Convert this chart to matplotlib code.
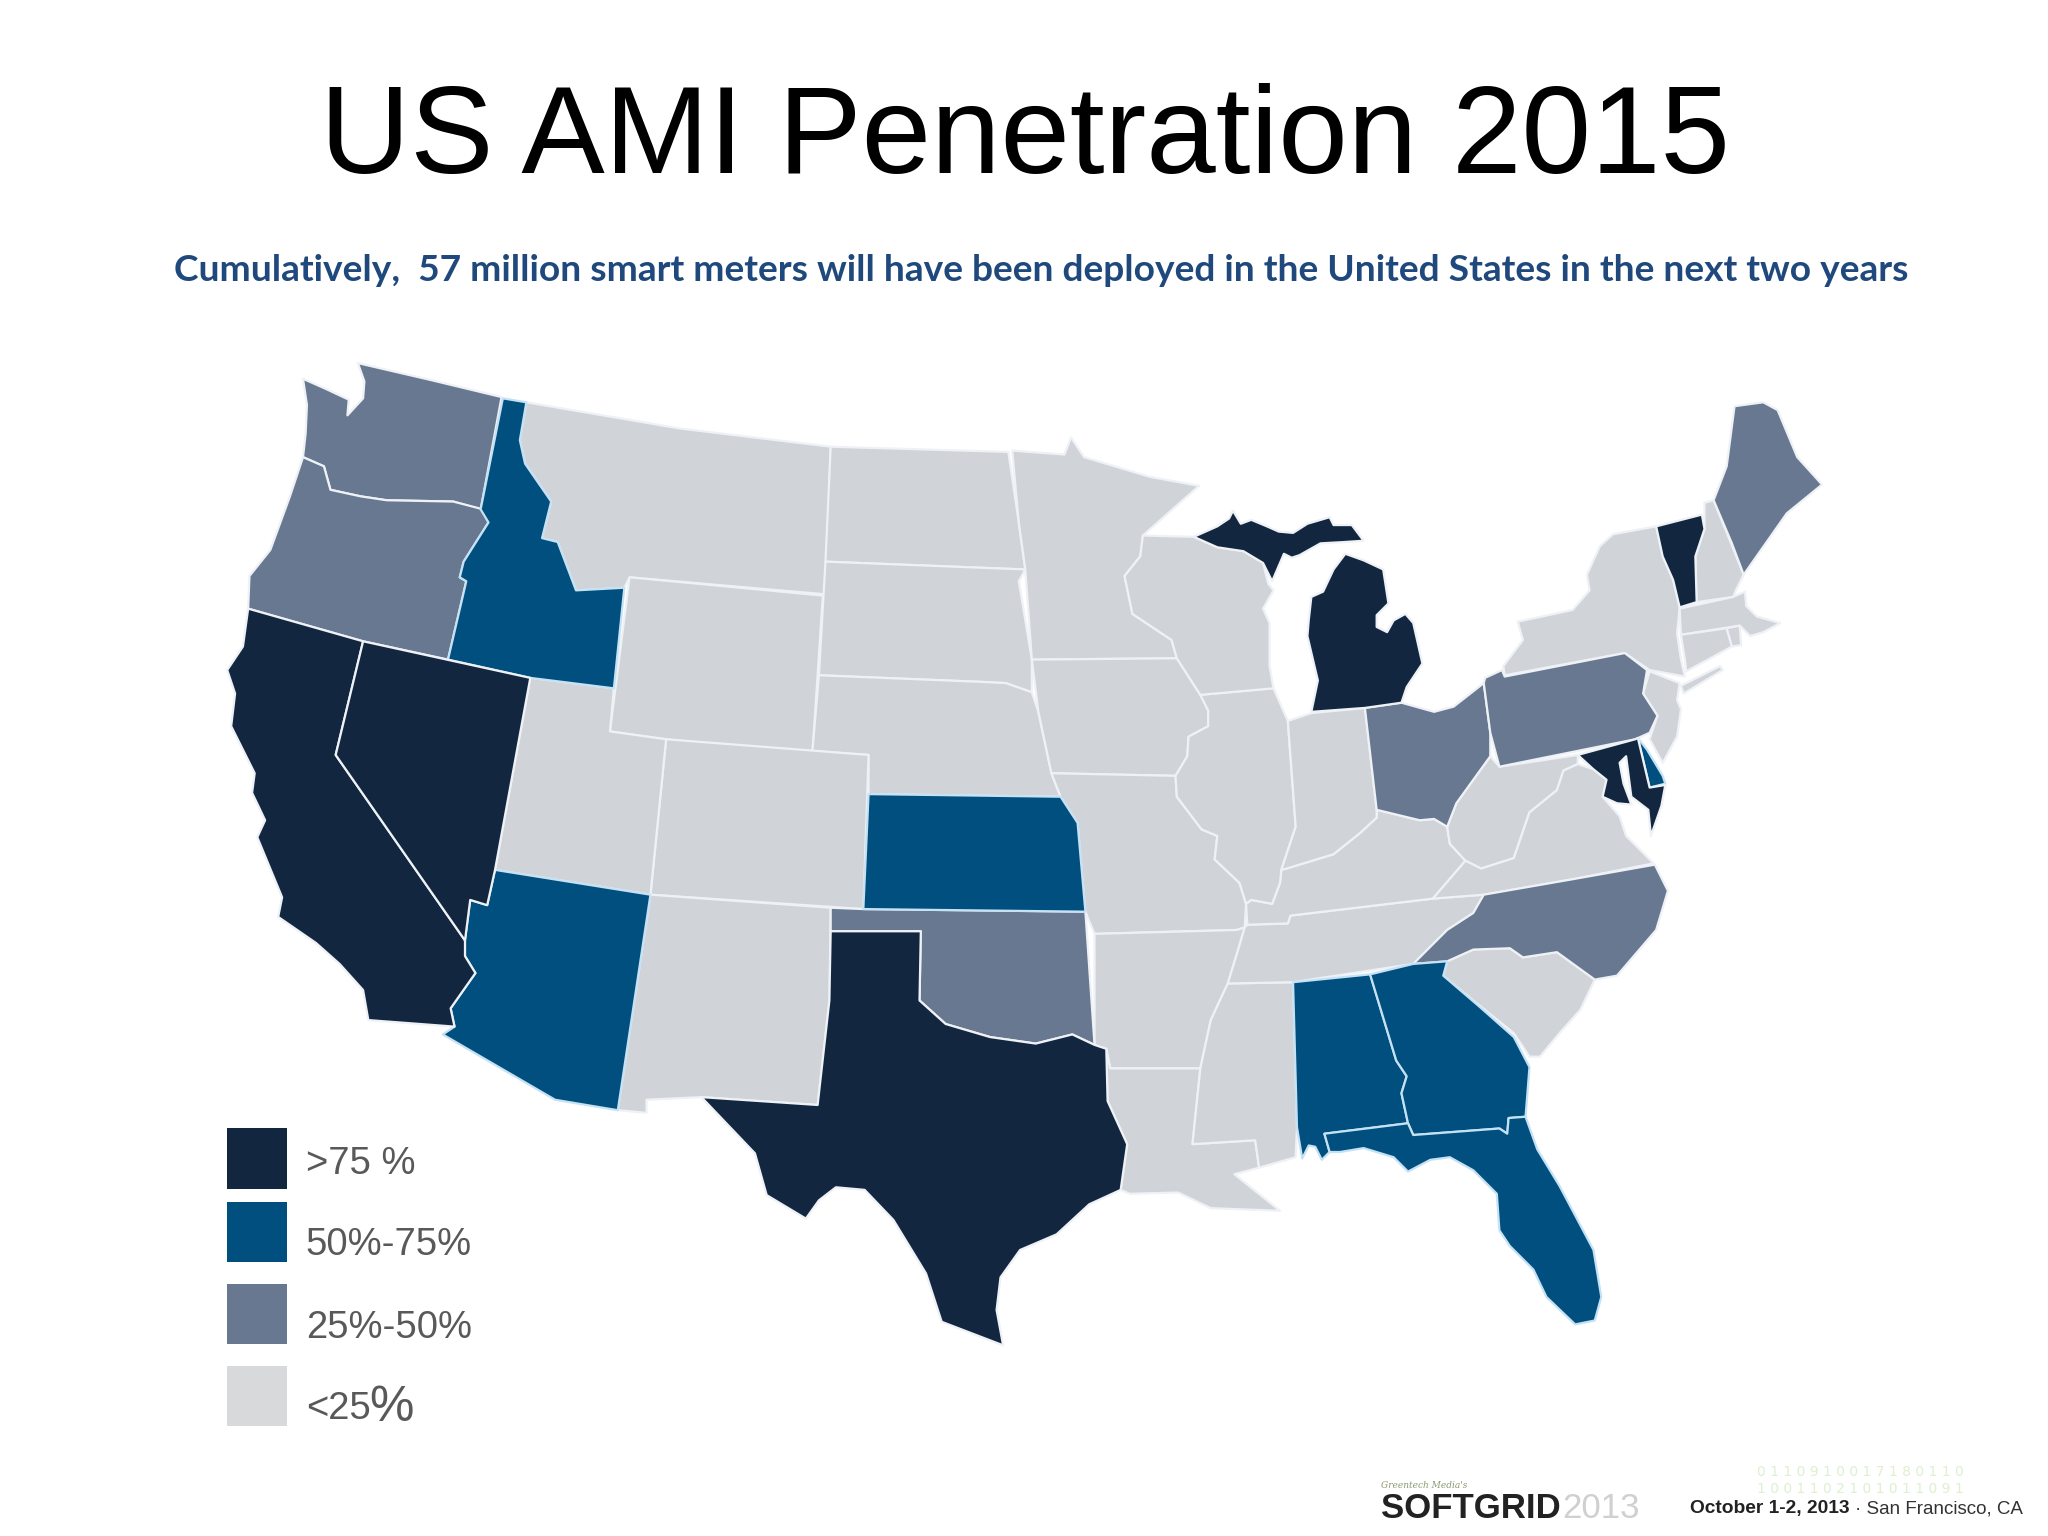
import matplotlib
matplotlib.use("Agg")
import matplotlib.pyplot as plt
from matplotlib.patches import Polygon, Rectangle

# State outlines (reference pixels at 1568 wide)
WA = [(232,290),(250,298),(267,306),(266,318),(278,305),(279,292),(274,278),(330,291),(384,304),(368,390),(347,384),(296,383),(276,380),(253,375),(248,357),(232,350),(234,332),(235,310)]
OR = [(232,350),(248,357),(253,375),(276,380),(296,383),(347,384),(370,390),(374,400),(355,430),(352,442),(357,445),(343,505),(278,491),(190,466),(191,441),(207,421),(222,380)]
ID = [(385,305),(403,308),(398,337),(402,355),(422,384),(415,412),(427,415),(441,452),(478,450),(470,527),(406,519),(343,505),(357,445),(352,442),(355,430),(374,400),(368,390)]
MT = [(403,308),(520,328),(636,342),(632,455),(482,442),(478,450),(441,452),(427,415),(415,412),(422,384),(402,355),(398,337)]
WY = [(482,442),(630,456),(622,577),(510,566),(467,560)]
ND = [(636,342),(772,346),(780,400),(785,436),(632,430)]
SD = [(632,430),(785,436),(780,445),(790,505),(790,530),(770,523),(750,522),(627,517)]
NE = [(627,517),(750,522),(770,523),(790,530),(795,545),(805,592),(812,610),(665,608),(665,578),(622,575)]
KS = [(665,608),(812,610),(825,630),(831,698),(661,696)]
CO = [(510,566),(665,578),(661,696),(498,685)]
UT = [(406,519),(470,527),(467,560),(510,566),(498,685),(379,666)]
NV = [(278,491),(406,519),(379,666),(373,693),(360,689),(356,720),(257,578)]
CA = [(190,466),(278,491),(257,578),(356,720),(356,732),(364,745),(345,772),(348,786),(282,781),(278,758),(260,738),(242,722),(213,702),(216,687),(197,641),(203,628),(193,607),(195,592),(177,556),(180,531),(174,513),(186,495)]
AZ = [(379,666),(498,685),(473,850),(425,842),(339,792),(348,786),(345,772),(364,745),(356,732),(356,720),(360,689),(373,693)]
NM = [(498,685),(636,695),(635,766),(626,846),(537,840),(495,842),(495,852),(473,850)]
TX = [(636,713),(705,713),(704,766),(724,784),(758,794),(793,799),(821,792),(838,800),(847,803),(848,843),(863,876),(858,911),(834,922),(809,945),(781,957),(766,978),(763,1003),(768,1030),(721,1012),(709,975),(684,934),(662,911),(640,909),(627,919),(617,933),(587,915),(578,883),(537,840),(626,846),(635,766)]
OK_ = [(636,695),(661,696),(831,698),(838,800),(821,792),(793,799),(758,794),(724,784),(704,766),(705,713),(636,713)]
MN = [(775,345),(815,348),(820,335),(830,350),(880,365),(918,372),(875,410),(873,426),(861,441),(867,470),(897,490),(901,504),(790,505),(785,436),(780,400)]
IA = [(790,505),(901,504),(919,532),(925,544),(925,556),(910,564),(909,579),(900,594),(805,592),(795,545)]
MO = [(805,592),(900,594),(901,610),(920,635),(932,640),(930,658),(949,676),(954,692),(953,710),(947,712),(838,715),(831,698),(825,630),(812,610)]
AR = [(838,715),(947,712),(953,710),(948,727),(940,753),(927,781),(919,818),(850,818),(847,803),(838,800)]
LA = [(850,818),(919,818),(913,876),(961,873),(964,894),(945,899),(980,927),(927,925),(902,913),(865,914),(858,911),(863,876),(848,843),(847,803)]
MS = [(940,753),(990,752),(993,863),(992,886),(964,894),(961,873),(913,876),(919,818),(927,781)]
AL = [(990,752),(1049,746),(1069,812),(1077,824),(1073,837),(1078,860),(1014,868),(1018,882),(1012,888),(1007,878),(1002,877),(997,887),(993,863)]
TN = [(955,708),(986,707),(988,701),(1097,688),(1136,685),(1128,699),(1108,712),(1082,738),(990,752),(940,753),(948,727),(953,710)]
KY = [(1054,620),(1087,628),(1098,627),(1108,633),(1110,646),(1122,659),(1097,688),(988,701),(986,707),(955,708),(954,692),(958,689),(974,692),(980,676),(981,666),(985,665),(1021,654),(1041,638),(1054,626)]
IL = [(919,532),(975,527),(986,552),(992,633),(981,666),(980,676),(974,692),(958,689),(954,692),(949,676),(930,658),(932,640),(920,635),(901,610),(900,594),(909,579),(910,564),(925,556),(925,544)]
WI = [(875,410),(914,411),(932,419),(952,422),(967,431),(971,447),(975,452),(967,466),(972,477),(972,510),(975,527),(919,532),(901,504),(897,490),(867,470),(861,441),(873,426)]
MI_L = [(1030,424),(1044,429),(1059,436),(1063,462),(1054,471),(1054,480),(1062,484),(1067,475),(1076,470),(1082,477),(1089,508),(1077,526),(1073,538),(1045,542),(1004,545),(1009,521),(1001,487),(1002,475),(1004,457),(1013,453),(1021,436)]
MI_U = [(914,411),(932,403),(941,397),(944,391),(950,401),(958,398),(970,403),(979,407),(990,408),(1001,401),(1018,396),(1021,402),(1035,402),(1044,414),(1029,415),(1011,416),(995,425),(989,427),(983,424),(974,445),(967,431),(952,422),(932,419)]
IN = [(986,552),(1004,546),(1045,542),(1054,620),(1054,626),(1041,638),(1021,654),(985,665),(981,666),(992,633)]
OH = [(1045,542),(1073,538),(1098,545),(1113,541),(1136,523),(1141,561),(1141,579),(1115,615),(1108,633),(1098,627),(1087,628),(1054,620)]
PA = [(1137,519),(1150,513),(1152,518),(1244,500),(1261,513),(1258,531),(1269,548),(1263,561),(1252,566),(1148,587),(1141,561),(1136,523)]
NY = [(1235,409),(1268,403),(1273,426),(1281,444),(1286,465),(1284,485),(1287,505),(1290,518),(1263,513),(1244,500),(1152,517),(1151,510),(1166,490),(1162,476),(1204,467),(1217,452),(1215,440),(1225,418)]
LI = [(1287,525),(1317,510),(1319,513),(1289,531)]
VT = [(1268,403),(1303,394),(1305,405),(1298,426),(1299,461),(1286,465),(1281,444),(1273,426)]
NH = [(1305,385),(1312,383),(1335,440),(1329,452),(1327,457),(1299,461),(1298,426),(1305,405)]
ME = [(1328,311),(1350,308),(1361,314),(1376,350),(1395,371),(1368,393),(1335,440),(1326,416),(1312,383),(1322,357)]
MA = [(1286,466),(1327,457),(1336,453),(1337,464),(1345,472),(1363,477),(1350,484),(1340,487),(1332,479),(1287,486)]
CT = [(1287,486),(1322,481),(1326,495),(1291,514),(1290,505)]
RI = [(1322,481),(1332,479),(1333,494),(1326,495)]
NJ = [(1263,514),(1286,523),(1284,536),(1287,543),(1284,564),(1273,584),(1263,566),(1269,548),(1258,531)]
DE = [(1254,565),(1261,574),(1273,594),(1275,600),(1263,603)]
MD = [(1208,578),(1252,566),(1254,565),(1263,603),(1275,601),(1272,617),(1264,640),(1262,620),(1249,610),(1245,579),(1240,584),(1243,600),(1249,616),(1238,615),(1227,610),(1230,597),(1220,589)]
WV = [(1108,633),(1115,615),(1141,579),(1148,587),(1208,578),(1208,585),(1197,590),(1192,605),(1171,622),(1159,657),(1134,665),(1122,659),(1110,646)]
VA = [(1097,688),(1122,659),(1134,665),(1159,657),(1171,622),(1192,605),(1197,590),(1208,585),(1220,589),(1230,597),(1227,610),(1240,625),(1245,640),(1266,661),(1205,673),(1136,685)]
NC = [(1136,685),(1205,673),(1267,662),(1277,682),(1268,712),(1238,747),(1221,750),(1192,729),(1166,733),(1156,726),(1128,727),(1108,736),(1082,738),(1108,712),(1128,699)]
SC = [(1108,736),(1128,727),(1156,726),(1166,733),(1192,729),(1221,750),(1210,773),(1194,791),(1179,809),(1171,809),(1159,791),(1128,766),(1105,747)]
GA = [(1049,746),(1082,738),(1108,736),(1105,747),(1133,771),(1159,794),(1171,817),(1168,855),(1155,856),(1154,868),(1148,864),(1082,869),(1078,860),(1073,837),(1077,824),(1069,812)]
FL = [(1014,868),(1078,860),(1082,869),(1148,864),(1154,868),(1155,856),(1168,855),(1177,880),(1194,908),(1220,957),(1226,993),(1221,1011),(1206,1014),(1184,993),(1174,972),(1156,954),(1148,942),(1146,914),(1128,896),(1110,886),(1095,888),(1078,897),(1067,886),(1044,879),(1026,882),(1018,882)]

LOW_STATES = [MT, WY, ND, SD, NE, CO, UT, NM, MN, IA, MO, AR, LA, MS, TN, KY, IL, WI, IN, NY, LI, NH, MA, CT, RI, NJ, WV, VA, SC]
MID_LOW_STATES = [WA, OR, OK_, OH, PA, ME, NC]
MID_HIGH_STATES = [ID, KS, AZ, AL, GA, FL, DE]
HIGH_STATES = [CA, NV, TX, MI_L, MI_U, VT, MD]

LEGEND_LABELS = [">75 %", "50%-75%", "25%-50%", "<25"]
CLASS_COLORS = ["#12263f", "#004f7e", "#677890", "#d0d3d8"]
LEGEND_COLORS = ["#12263f", "#004f7e", "#677890", "#d8d9db"]

TITLE = "US AMI Penetration 2015"
SUBTITLE = "Cumulatively,  57 million smart meters will have been deployed in the United States in the next two years"

fig = plt.figure(figsize=(20.48, 15.36), dpi=100, facecolor="white")
ax = fig.add_axes([0, 0, 1, 1])
ax.set_xlim(0, 1568)
ax.set_ylim(1176, 0)
ax.axis("off")

ax.text(785, 108, TITLE, family="Liberation Sans", fontsize=90, ha="center", va="center", color="black")
ax.text(797, 207, SUBTITLE, family="Lato", weight="bold", fontsize=26.7, ha="center", va="center", color="#1f497d")

for group, col in [(LOW_STATES, CLASS_COLORS[3]), (MID_LOW_STATES, CLASS_COLORS[2]),
                   (MID_HIGH_STATES, CLASS_COLORS[1]), (HIGH_STATES, CLASS_COLORS[0])]:
    edge = "#c5e2f5" if col == CLASS_COLORS[1] else "#eef1f5"
    for st in group:
        ax.add_patch(Polygon(st, closed=True, facecolor=col, edgecolor=edge, linewidth=1.6, joinstyle="round"))

for i, (lab, col) in enumerate(zip(LEGEND_LABELS, LEGEND_COLORS)):
    y0 = [864, 920, 983, 1046][i]
    ax.add_patch(Rectangle((174, y0), 46, 46, facecolor=col, edgecolor="none"))
    ax.text(234, [891, 953, 1017, 1079][i], lab, family="Liberation Sans", fontsize=27.5, color="#595959", va="center", ha="left")
ax.text(283, 1078, "%", family="Liberation Sans", fontsize=36, color="#595959", va="center", ha="left")

# footer
for j, row in enumerate(["0 1 1 0 9 1 0 0 1 7 1 8 0 1 1 0", "1 0 0 1 1 0 2 1 0 1 0 1 1 0 9 1"]):
    ax.text(1345, 1127 + j * 13, row, family="DejaVu Sans", fontsize=10, color="#dff0d0", va="center", ha="left")
ax.text(1057, 1137, "Greentech Media's", family="DejaVu Serif", style="italic", fontsize=6.5, color="#8a9a70", va="center")
ax.text(1057, 1155, "SOFTGRID", family="Liberation Sans", weight="bold", fontsize=25, color="#222222", va="center")
ax.text(1196, 1155, "2013", family="Liberation Sans", fontsize=25, color="#d0d0d0", va="center")
ax.text(1294, 1155, "October 1-2, 2013", family="Liberation Sans", weight="bold", fontsize=13.8, color="#222222", va="center")
ax.text(1420, 1155, "· San Francisco, CA", family="Liberation Sans", fontsize=13.5, color="#333333", va="center")

fig.savefig("out.png", dpi=100)
